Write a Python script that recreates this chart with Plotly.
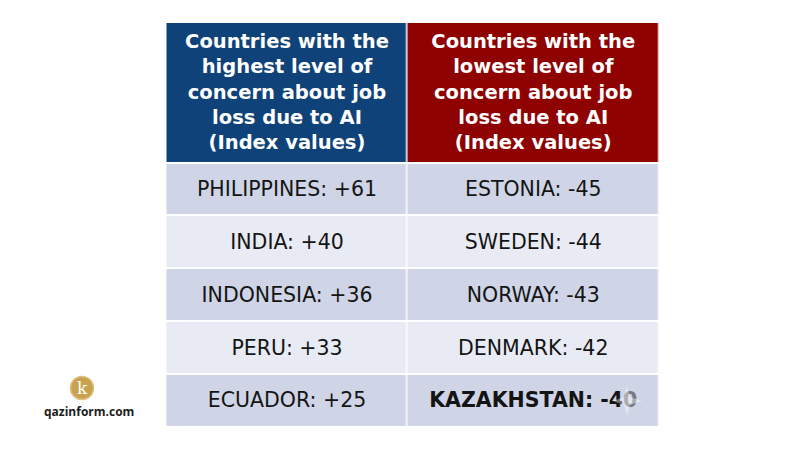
import numpy as np
import plotly.graph_objects as go

# Values from the table
high_countries = ["PHILIPPINES", "INDIA", "INDONESIA", "PERU", "ECUADOR"]
high_values = ["+61", "+40", "+36", "+33", "+25"]
low_countries = ["ESTONIA", "SWEDEN", "NORWAY", "DENMARK", "KAZAKHSTAN"]
low_values = ["-45", "-44", "-43", "-42", "-40"]

header_high = "Countries with the<br>highest level of<br>concern about job<br>loss due to AI<br>(Index values)"
header_low = "Countries with the<br>lowest level of<br>concern about job<br>loss due to AI<br>(Index values)"

# Table grid, in pixels of the picture
col_edges = np.array([166.5, 407.5, 659])
row_edges = np.array([22, 162.5, 215, 268, 321, 374, 426.5])
col_mid = (col_edges[:-1] + col_edges[1:]) / 2
row_mid = (row_edges[:-1] + row_edges[1:]) / 2

font_name = "DejaVu Sans"

left_cells = [f"{c}: {v}" for c, v in zip(high_countries, high_values)]
right_cells = [f"{c}: {v}" for c, v in zip(low_countries, low_values)]
# last row is bold, and the last digit is dimmed by the sparkle
right_cells[-1] = '<b>KAZAKHSTAN: -4<span style="color:#77777c">0</span></b>'

# 0 blue header, 1 red header, 2 dark row, 3 light row
cell_kind = [[0, 1], [2, 2], [3, 3], [2, 2], [3, 3], [2, 2]]
kind_colors = ["#10427a", "#8f0202", "#cfd5e6", "#e8ebf4"]
colorscale = []
for i, c in enumerate(kind_colors):
    colorscale += [[i / 4, c], [(i + 1) / 4, c]]

fig = go.Figure()

fig.add_trace(go.Heatmap(
    x=col_edges, y=row_edges, z=cell_kind,
    zmin=0, zmax=4, colorscale=colorscale, showscale=False,
    xgap=1.5, ygap=2, hoverinfo="skip",
))

# header text
fig.add_trace(go.Scatter(
    x=col_mid, y=[row_mid[0] + 1.5, row_mid[0] + 1.5],
    mode="text", text=[f"<b>{header_high}</b>", f"<b>{header_low}</b>"],
    textposition="middle center",
    textfont=dict(family=font_name, size=19.5, color="white"),
    hoverinfo="skip",
))

# body text
fig.add_trace(go.Scatter(
    x=[col_mid[0]] * 5 + [col_mid[1]] * 5,
    y=list(row_mid[1:] + 2) * 2,
    mode="text", text=left_cells + right_cells,
    textposition="middle center",
    textfont=dict(family=font_name, size=20.5, color="#141414"),
    hoverinfo="skip",
))

# logo on the lower left
fig.add_shape(
    type="circle", x0=70.5, x1=93.5, y0=376.5, y1=399.5,
    fillcolor="#c9a24f", line=dict(color="#dcc07f", width=1.5),
)
fig.add_annotation(
    x=82, y=387.5, text="k", showarrow=False,
    font=dict(family="DejaVu Serif", size=17, color="white"),
)
fig.add_annotation(
    x=88.5, y=411.5, text="<b>qazinform.com</b>", showarrow=False,
    font=dict(family="Open Sans", size=12, color="#1c1c1c"),
)

# small sparkle over the last cell
fig.add_shape(
    type="path",
    path="M 627 386 L 630 397 L 642 401 L 630 405 L 627 416 L 624 405 L 613 401 L 624 397 Z",
    fillcolor="rgba(255,255,255,0.4)", line=dict(width=0),
)

# the page keeps an 8px margin, so the figure fills what is left of 800x450
fig.update_layout(
    width=784, height=434,
    margin=dict(l=0, r=0, t=0, b=0),
    paper_bgcolor="white", plot_bgcolor="white",
    showlegend=False,
    xaxis=dict(range=[8, 792], visible=False, fixedrange=True),
    yaxis=dict(range=[442, 8], visible=False, fixedrange=True),
)

fig.write_html("out.html")
